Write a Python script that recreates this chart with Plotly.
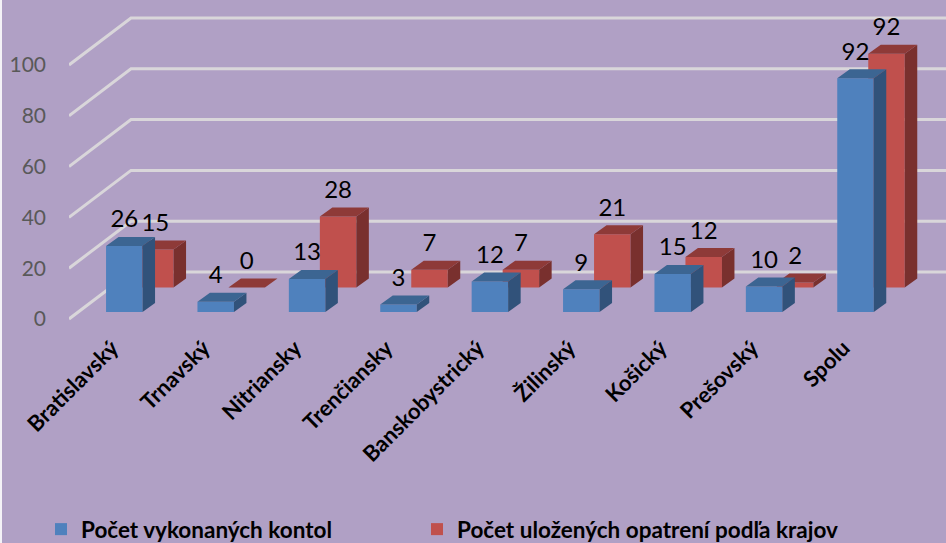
import plotly.graph_objects as go

# ---- data ----
categories = ["Bratislavský", "Trnavský", "Nitriansky", "Trenčiansky", "Banskobystrický",
              "Žilinský", "Košický", "Prešovský", "Spolu"]
kontroly = [26, 4, 13, 3, 12, 9, 15, 10, 92]
opatrenia = [15, 0, 28, 7, 7, 21, 12, 2, 92]
y_ticks = [0, 20, 40, 60, 80, 100]
name_blue = "Počet vykonaných kontol"
name_red = "Počet uložených opatrení podľa krajov"

# ---- geometry of the fake 3D, in axis units ----
W, H = 946, 551      # page clips the bottom 8 px, which only hold legend padding
PX_X = 91.4          # px per category
PX_Y = 2.54          # px per value unit
X0_PX = 124.3        # px position of first category
LEFT = 69
Y0_PX = 319
AXIS_PX = 330
x_range = [(LEFT - X0_PX) / PX_X, (W - X0_PX) / PX_X]
y_range = [(Y0_PX - H) / PX_Y, Y0_PX / PX_Y]
bar_w = 36.5 / PX_X
side_dx = 12.5 / PX_X
side_dy = 9 / PX_Y
base_blue = (Y0_PX - 312) / PX_Y
base_red = (Y0_PX - 287.5) / PX_Y
shift_red = 31 / PX_X
label_up = 24.5 / PX_Y
grid_dx = 62 / PX_X
grid_dy = 47 / PX_Y

BG = "#B0A0C5"
GRID = "#D9D6DA"
FONT = "Lato"

fig = go.Figure()

# gridlines (walls) on the bottom subplot
gx, gy = [], []
for t in y_ticks:
    gx += [x_range[0], x_range[0] + grid_dx, x_range[1], None]
    gy += [t, t + grid_dy, t + grid_dy, None]
fig.add_trace(go.Scatter(x=gx, y=gy, mode="lines", line=dict(color=GRID, width=3),
                         showlegend=False, hoverinfo="skip", xaxis="x", yaxis="y"))


def add_series(values, name, base, shift, front, top, side, xa, ya, legend):
    xs = [i + shift for i in range(len(values))]
    fig.add_trace(go.Bar(x=xs, y=values, base=[base] * len(values), width=bar_w, name=name,
                         marker=dict(color=front, line=dict(width=0)),
                         xaxis=xa, yaxis=ya, legend=legend))
    sx, sy, tx, ty = [], [], [], []
    for c, v in zip(xs, values):
        l, r = c - bar_w / 2, c + bar_w / 2
        b, t = base, base + v
        sx += [r, r + side_dx, r + side_dx, r, r, None]
        sy += [b, b + side_dy, t + side_dy, t, b, None]
        tx += [l, l + side_dx, r + side_dx, r, l, None]
        ty += [t, t + side_dy, t + side_dy, t, t, None]
    for px, py, col in ((sx, sy, side), (tx, ty, top)):
        fig.add_trace(go.Scatter(x=px, y=py, mode="lines", fill="toself", fillcolor=col,
                                 line=dict(width=0, color=col), showlegend=False,
                                 hoverinfo="skip", xaxis=xa, yaxis=ya))
    fig.add_trace(go.Scatter(x=xs, y=[base + v + label_up for v in values], mode="text",
                             text=[str(v) for v in values], textposition="middle center",
                             textfont=dict(family=FONT, size=24, color="#000000"),
                             showlegend=False, hoverinfo="skip", xaxis=xa, yaxis=ya))


add_series(opatrenia, name_red, base_red, shift_red, "#C0504D", "#8E3A38", "#79302E", "x2", "y2", "legend2")
add_series(kontroly, name_blue, base_blue, 0, "#4F81BD", "#3C6592", "#31527A", "x3", "y3", "legend")

legend_font = dict(family=FONT, size=22.5, color="#000000", weight="bold")
fig.update_layout(
    width=W, height=H,
    margin=dict(l=LEFT, r=0, t=0, b=0, pad=0),
    autosize=False,
    paper_bgcolor="#F4F2F7",
    plot_bgcolor="rgba(0,0,0,0)",
    barmode="overlay",
    font=dict(family=FONT),
    xaxis=dict(range=x_range, tickmode="array", tickvals=list(range(len(categories))),
               ticktext=categories, tickangle=-45, showgrid=False, zeroline=False, showline=False,
               ticks="", anchor="free", position=(H - AXIS_PX) / H, ticklabelshift=-12,
               tickfont=dict(family=FONT, size=22, color="#000000", weight="bold")),
    yaxis=dict(range=y_range, tickmode="array", tickvals=y_ticks, ticktext=[str(t) for t in y_ticks],
               showgrid=False, zeroline=False, showline=False, ticks="", ticklabelstandoff=22,
               tickfont=dict(family=FONT, size=21, color="#595959")),
    xaxis2=dict(range=x_range, overlaying="x", visible=False),
    yaxis2=dict(range=y_range, overlaying="y", visible=False),
    xaxis3=dict(range=x_range, overlaying="x", visible=False),
    yaxis3=dict(range=y_range, overlaying="y", visible=False),
    legend=dict(orientation="h", x=(41 - LEFT) / (W - LEFT), xanchor="left",
                y=0, yanchor="bottom", font=legend_font, bgcolor="rgba(0,0,0,0)"),
    legend2=dict(orientation="h", x=(417 - LEFT) / (W - LEFT), xanchor="left",
                 y=0, yanchor="bottom", font=legend_font, bgcolor="rgba(0,0,0,0)"),
    shapes=[dict(type="rect", xref="paper", yref="paper",
                 x0=(2 - LEFT) / (W - LEFT), x1=1, y0=0, y1=1,
                 fillcolor=BG, line=dict(width=0), layer="below")],
)

fig.write_html("out.html", config={"displayModeBar": False},
               post_script="document.body.style.margin='0';document.body.style.overflow='hidden';")
